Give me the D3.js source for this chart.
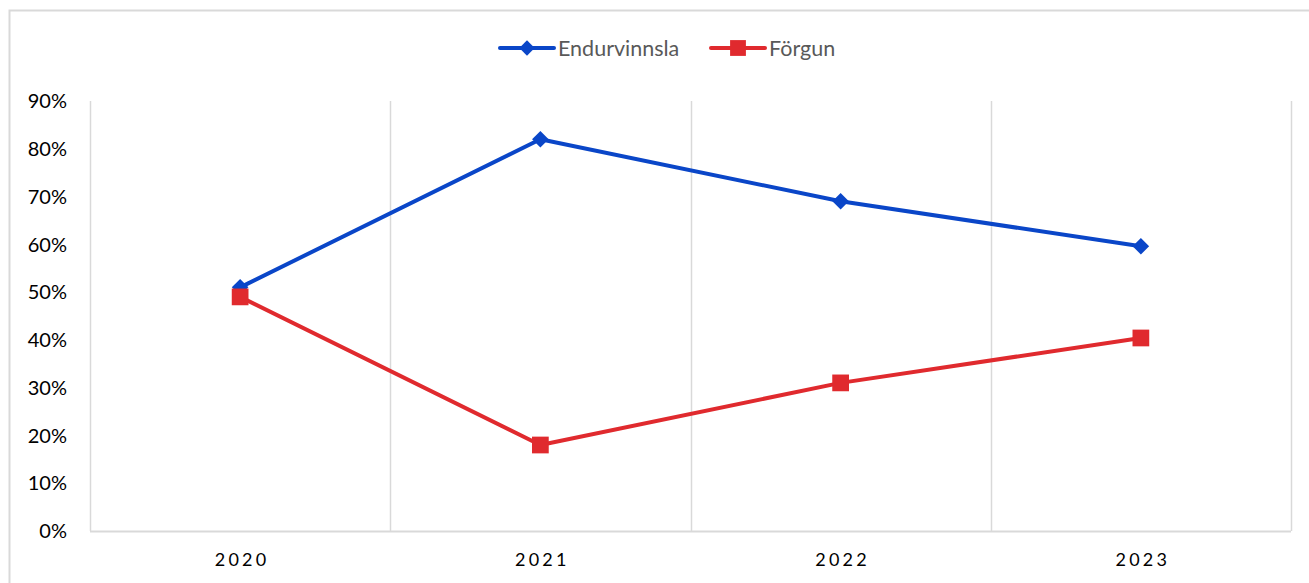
<!DOCTYPE html>
<html lang="is">
<head>
	<meta charset="UTF-8"/>
	<title>Endurvinnsla og förgun</title>
	<script src="https://d3js.org/d3.v7.min.js"></script>
	<style>
		body { margin: 0; background: #fff; }
		svg text { font-family: Lato, "Open Sans", sans-serif; }
	</style>
</head>
<body>
	<script>
		var w = 1309;
		var h = 583;

		var years = ["2020", "2021", "2022", "2023"];
		var endurvinnsla = [0.51, 0.82, 0.69, 0.596];
		var forgun = [0.49, 0.18, 0.31, 0.404];
		var yTicks = [0, 0.1, 0.2, 0.3, 0.4, 0.5, 0.6, 0.7, 0.8, 0.9];
		var seriesNames = ["Endurvinnsla", "Förgun"];

		var margin = {left: 90, right: 18, top: 101, bottom: 52};

		var svg = d3.select("body")
					.append("svg")
					.attr("width", w)
					.attr("height", h);

		// outer chart frame
		svg.append("rect")
			.attr("x", 9.5).attr("y", 10.5)
			.attr("width", w + 20).attr("height", h + 20)
			.attr("fill", "none")
			.attr("stroke", "#d9d9d9")
			.attr("stroke-width", 2);

		var xScale = d3.scaleBand()
					   .domain(years)
					   .range([margin.left, w - margin.right]);

		var yScale = d3.scaleLinear()
					   .domain([0, 0.9])
					   .range([h - margin.bottom, margin.top]);

		// vertical gridlines at category boundaries
		var bounds = years.map(function(d) { return xScale(d); }).concat([xScale.range()[1]]);
		svg.selectAll("line.grid")
			.data(bounds)
			.enter()
			.append("line")
			.attr("class", "grid")
			.attr("x1", function(d) { return Math.round(d) + 0.5; })
			.attr("x2", function(d) { return Math.round(d) + 0.5; })
			.attr("y1", yScale(0.9))
			.attr("y2", yScale(0))
			.attr("stroke", "#d9d9d9")
			.attr("stroke-width", 1.5);

		// x axis baseline
		svg.append("line")
			.attr("x1", xScale.range()[0]).attr("x2", xScale.range()[1])
			.attr("y1", yScale(0) + 0.5).attr("y2", yScale(0) + 0.5)
			.attr("stroke", "#d9d9d9")
			.attr("stroke-width", 2);

		// y labels
		svg.selectAll("text.ylab")
			.data(yTicks)
			.enter()
			.append("text")
			.attr("class", "ylab")
			.attr("x", 67)
			.attr("y", function(d) { return yScale(d); })
			.attr("dy", "0.36em")
			.attr("text-anchor", "end")
			.attr("font-size", 20)
			.attr("fill", "#000")
			.text(function(d) { return d3.format(".0%")(d); });

		// x labels
		svg.selectAll("text.xlab")
			.data(years)
			.enter()
			.append("text")
			.attr("class", "xlab")
			.attr("x", function(d) { return xScale(d) + xScale.bandwidth() / 2 + 2; })
			.attr("y", 566)
			.attr("text-anchor", "middle")
			.attr("font-size", 18)
			.attr("letter-spacing", 3.3)
			.attr("fill", "#000")
			.text(function(d) { return d; });

		var cx = function(d, i) { return xScale(years[i]) + xScale.bandwidth() / 2; };

		var line = d3.line()
					 .x(function(d, i) { return cx(d, i); })
					 .y(function(d) { return yScale(d); });

		var blue = "#0a46c8";
		var red = "#e02a2e";

		svg.append("path")
			.datum(endurvinnsla)
			.attr("d", line)
			.attr("fill", "none")
			.attr("stroke", blue)
			.attr("stroke-width", 4)
			.attr("stroke-linejoin", "round");

		svg.append("path")
			.datum(forgun)
			.attr("d", line)
			.attr("fill", "none")
			.attr("stroke", red)
			.attr("stroke-width", 4)
			.attr("stroke-linejoin", "round");

		var diamond = d3.symbol().type(d3.symbolDiamond2).size(175);
		var square = d3.symbol().type(d3.symbolSquare).size(280);

		svg.selectAll("path.dia")
			.data(endurvinnsla)
			.enter()
			.append("path")
			.attr("class", "dia")
			.attr("d", diamond)
			.attr("transform", function(d, i) { return "translate(" + cx(d, i) + "," + yScale(d) + ")"; })
			.attr("fill", blue);

		svg.selectAll("path.sq")
			.data(forgun)
			.enter()
			.append("path")
			.attr("class", "sq")
			.attr("d", square)
			.attr("transform", function(d, i) { return "translate(" + cx(d, i) + "," + yScale(d) + ")"; })
			.attr("fill", red);

		// legend
		var legend = svg.append("g");
		var legX = [500, 711];
		var cols = [blue, red];
		var syms = [d3.symbol().type(d3.symbolDiamond2).size(150), d3.symbol().type(d3.symbolSquare).size(250)];
		seriesNames.forEach(function(name, i) {
			var g = legend.append("g").attr("transform", "translate(" + legX[i] + ",48)");
			g.append("line")
				.attr("x1", 0).attr("x2", 54)
				.attr("stroke", cols[i])
				.attr("stroke-width", 4)
				.attr("stroke-linecap", "round");
			g.append("path")
				.attr("d", syms[i])
				.attr("transform", "translate(27,0)")
				.attr("fill", cols[i]);
			g.append("text")
				.attr("x", 58)
				.attr("dy", "0.36em")
				.attr("font-size", 21.5)
				.attr("fill", "#595959")
				.text(name);
		});
	</script>
</body>
</html>
